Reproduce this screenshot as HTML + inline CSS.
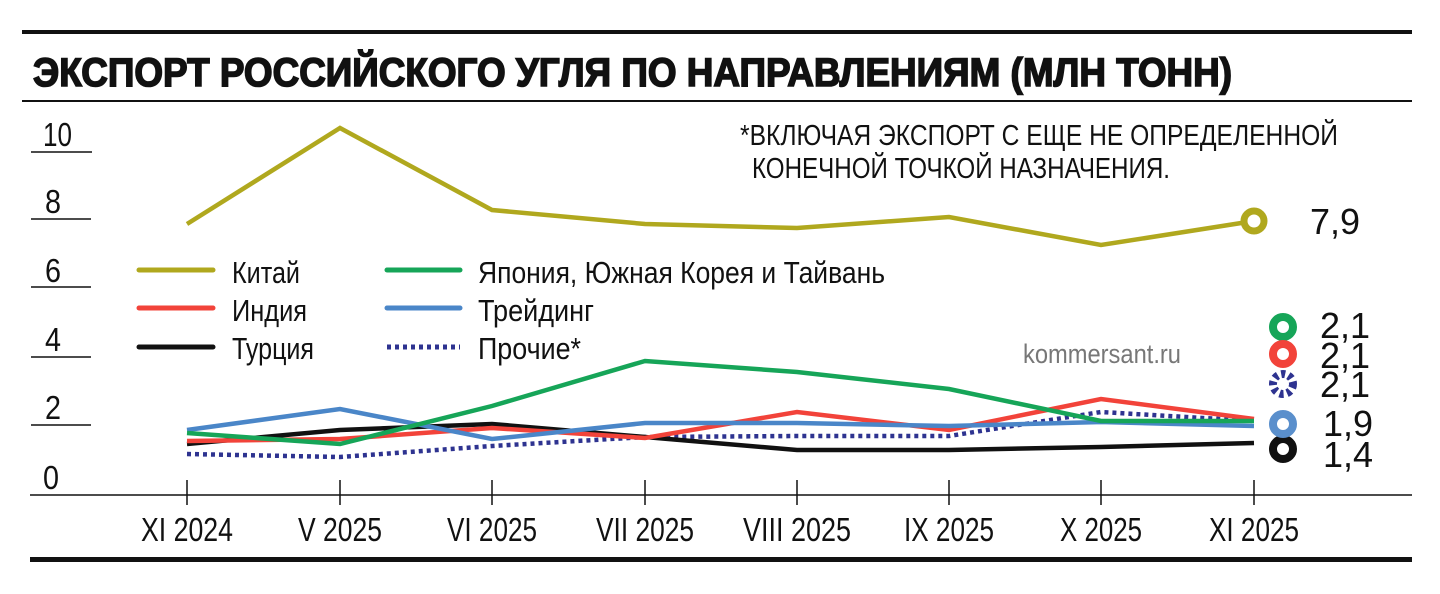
<!DOCTYPE html>
<html><head><meta charset="utf-8"><style>
html,body{margin:0;padding:0;background:#fff;}
svg{display:block;}
text{font-family:"Liberation Sans Narrow","Liberation Sans",sans-serif;fill:#111;}
</style></head><body>
<svg width="1440" height="594" viewBox="0 0 1440 594" xmlns="http://www.w3.org/2000/svg">
<rect width="1440" height="594" fill="#fff"/>
<rect x="22" y="30" width="1390" height="4" fill="#111"/>
<text x="33" y="86" font-size="40" font-weight="bold" stroke="#111" stroke-width="1.6" textLength="1199" lengthAdjust="spacingAndGlyphs" style="font-family:'Liberation Sans',sans-serif">ЭКСПОРТ РОССИЙСКОГО УГЛЯ ПО НАПРАВЛЕНИЯМ (МЛН ТОНН)</text>
<rect x="22" y="100" width="1390" height="2" fill="#111"/>
<g stroke="#111" stroke-width="1.5">
<line x1="31" y1="152" x2="92" y2="152"/>
<line x1="31" y1="219" x2="91" y2="219"/>
<line x1="31" y1="287" x2="91" y2="287"/>
<line x1="31" y1="357" x2="91" y2="357"/>
<line x1="31" y1="425" x2="91" y2="425"/>
<line x1="30" y1="495" x2="1412" y2="495"/>
<line x1="187" y1="480" x2="187" y2="505"/>
<line x1="340" y1="480" x2="340" y2="505"/>
<line x1="492" y1="480" x2="492" y2="505"/>
<line x1="645" y1="480" x2="645" y2="505"/>
<line x1="797" y1="480" x2="797" y2="505"/>
<line x1="949" y1="480" x2="949" y2="505"/>
<line x1="1101" y1="480" x2="1101" y2="505"/>
<line x1="1254" y1="480" x2="1254" y2="505"/>
</g>
<g font-size="33">
<text x="43" y="146" textLength="29" lengthAdjust="spacingAndGlyphs">10</text>
<text x="45" y="213" textLength="16" lengthAdjust="spacingAndGlyphs">8</text>
<text x="45" y="282" textLength="16" lengthAdjust="spacingAndGlyphs">6</text>
<text x="45" y="351" textLength="16" lengthAdjust="spacingAndGlyphs">4</text>
<text x="45" y="419" textLength="16" lengthAdjust="spacingAndGlyphs">2</text>
<text x="43" y="489" textLength="16" lengthAdjust="spacingAndGlyphs">0</text>
</g>
<g font-size="33" text-anchor="middle">
<text x="187" y="541" textLength="92" lengthAdjust="spacingAndGlyphs">XI 2024</text>
<text x="340" y="541" textLength="84" lengthAdjust="spacingAndGlyphs">V 2025</text>
<text x="492" y="541" textLength="90" lengthAdjust="spacingAndGlyphs">VI 2025</text>
<text x="645" y="541" textLength="98" lengthAdjust="spacingAndGlyphs">VII 2025</text>
<text x="797" y="541" textLength="108" lengthAdjust="spacingAndGlyphs">VIII 2025</text>
<text x="949" y="541" textLength="90" lengthAdjust="spacingAndGlyphs">IX 2025</text>
<text x="1101" y="541" textLength="82" lengthAdjust="spacingAndGlyphs">X 2025</text>
<text x="1254" y="541" textLength="90" lengthAdjust="spacingAndGlyphs">XI 2025</text>
</g>
<rect x="30" y="557" width="1382" height="5" fill="#111"/>
<text x="740" y="145" font-size="29" textLength="598" lengthAdjust="spacingAndGlyphs">*ВКЛЮЧАЯ ЭКСПОРТ С ЕЩЕ НЕ ОПРЕДЕЛЕННОЙ</text>
<text x="752" y="178" font-size="29" textLength="418" lengthAdjust="spacingAndGlyphs">КОНЕЧНОЙ ТОЧКОЙ НАЗНАЧЕНИЯ.</text>
<text x="1023" y="363" font-size="27" style="fill:#777" textLength="158" lengthAdjust="spacingAndGlyphs">kommersant.ru</text>
<g stroke-width="5" stroke-linecap="round">
<line x1="139" y1="270" x2="213" y2="270" stroke="#b0a81e"/>
<line x1="139" y1="308" x2="213" y2="308" stroke="#f2433a"/>
<line x1="139" y1="347" x2="213" y2="347" stroke="#111"/>
<line x1="387" y1="270" x2="460" y2="270" stroke="#16a558"/>
<line x1="387" y1="308" x2="460" y2="308" stroke="#4a86c8"/>
<line x1="387" y1="347" x2="460" y2="347" stroke="#2e3390" stroke-dasharray="4 4" stroke-linecap="butt"/>
</g>
<g font-size="31">
<text x="232" y="283" textLength="68" lengthAdjust="spacingAndGlyphs">Китай</text>
<text x="232" y="321" textLength="75" lengthAdjust="spacingAndGlyphs">Индия</text>
<text x="232" y="359" textLength="82" lengthAdjust="spacingAndGlyphs">Турция</text>
<text x="478" y="283" textLength="407" lengthAdjust="spacingAndGlyphs">Япония, Южная Корея и Тайвань</text>
<text x="478" y="321" textLength="116" lengthAdjust="spacingAndGlyphs">Трейдинг</text>
<text x="478" y="359" textLength="103" lengthAdjust="spacingAndGlyphs">Прочие*</text>
</g>
<g fill="none" stroke-width="4.5" stroke-linejoin="miter">
<polyline stroke="#b0a81e" points="187,224 340,128 492,210 645,224 797,228 949,217 1101,245 1254,221"/>
<polyline stroke="#2e3390" stroke-dasharray="4 4" points="187,454 340,457 492,446 645,437 797,436 949,436 1101,412 1254,421"/>
<polyline stroke="#111" points="187,444 340,430 492,424 645,437 797,450 949,450 1101,447 1254,443"/>
<polyline stroke="#f2433a" points="187,441 340,439 492,428 645,438 797,412 949,430 1101,399 1254,419"/>
<polyline stroke="#4a86c8" points="187,430 340,409 492,439 645,423 797,423 949,426 1101,422 1254,426"/>
<polyline stroke="#16a558" points="187,433 340,444 492,406 645,361 797,372 949,389 1101,421 1254,421"/>
</g>
<circle cx="1254" cy="221" r="10" fill="#fff" stroke="#b0a81e" stroke-width="7"/>
<g fill="#fff" stroke-width="8">
<circle cx="1283" cy="327" r="10" stroke="#16a558"/>
<circle cx="1283" cy="354" r="10" stroke="#f2433a"/>
<circle cx="1283" cy="384" r="10" stroke="#2e3390" stroke-dasharray="4 3.5"/>
<circle cx="1283" cy="449" r="10" stroke="#111"/>
<circle cx="1283" cy="424" r="10" stroke="#5a8fcc"/>
</g>
<g font-size="36" style="font-family:'Liberation Sans',sans-serif">
<text x="1310" y="234">7,9</text>
<text x="1320" y="338">2,1</text>
<text x="1320" y="368">2,1</text>
<text x="1320" y="397">2,1</text>
<text x="1323" y="436">1,9</text>
<text x="1323" y="467">1,4</text>
</g>
</svg>
</body></html>
